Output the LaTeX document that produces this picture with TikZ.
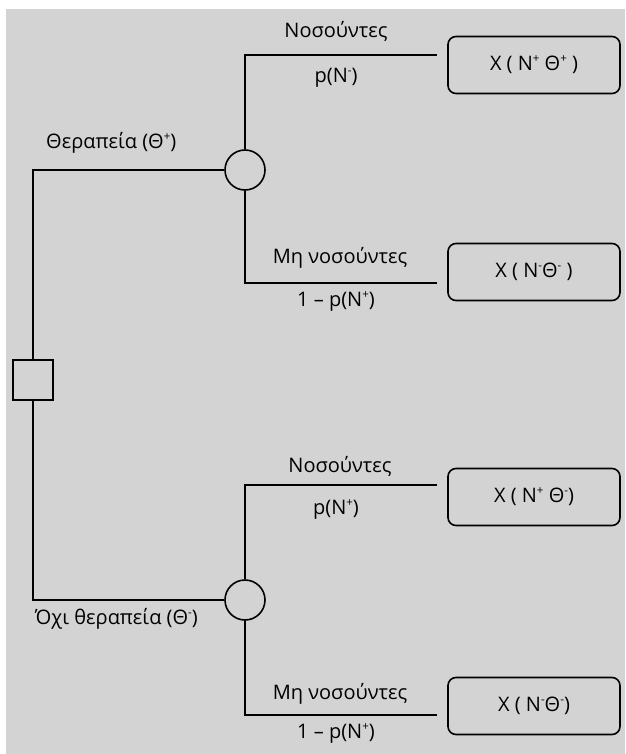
\documentclass[tikz,border=0pt]{standalone}
\usepackage{fontspec}
\setmainfont{Open Sans}
\definecolor{bg}{RGB}{211,211,211}
\newcommand{\sps}[1]{\raisebox{0.75ex}{\fontsize{11.5}{12}\selectfont #1}}
\begin{document}
\begin{tikzpicture}[x=1pt,y=-1pt,
  ln/.style={line width=1.6pt,black},
  lbl/.style={font=\fontsize{20}{22}\selectfont,inner sep=0pt},
  outcome/.style={draw,line width=1.6pt,rounded corners=8pt,minimum width=172pt,minimum height=57pt,font=\fontsize{20}{22}\selectfont,inner sep=0pt},
  chance/.style={draw,line width=1.6pt,circle,minimum size=40pt,inner sep=0pt},
  decision/.style={draw,line width=1.6pt,rectangle,minimum size=40pt,inner sep=0pt}]
\useasboundingbox (0,0) rectangle (625,754);
\fill[bg] (6,9) rectangle (625,754);
% nodes
\node[decision] (dec) at (33,380) {};
\node[chance] (c1) at (245,170) {};
\node[chance] (c2) at (245,600) {};
\node[outcome] (b1) at (534,65) {X ( N\sps{+} Θ\sps{+} )};
\node[outcome] (b2) at (534,272) {X ( N\sps{-}Θ\sps{-} )};
\node[outcome] (b3) at (534,497) {X ( N\sps{+} Θ\sps{-})};
\node[outcome] (b4) at (534,706) {X ( N\sps{-}Θ\sps{-})};
\coordinate (t1) at (245,55);
\coordinate (e1) at (437,55);
\coordinate (t2) at (245,283);
\coordinate (e2) at (437,283);
\coordinate (t3) at (245,485);
\coordinate (e3) at (437,485);
\coordinate (t4) at (245,715);
\coordinate (e4) at (437,715);
% connectors
\draw[ln] (dec.north) |- (c1.west);
\draw[ln] (dec.south) |- (c2.west);
\draw[ln] (c1.north) -- (t1) -- (e1);
\draw[ln] (c1.south) -- (t2) -- (e2);
\draw[ln] (c2.north) -- (t3) -- (e3);
\draw[ln] (c2.south) -- (t4) -- (e4);
% labels
\node[lbl] (l1) at (336,31) {Νοσούντες};
\node[lbl] (p1) at (336,78) {p(N\sps{-})};
\node[lbl,anchor=west] (th1) at (46,143) {Θεραπεία (Θ\sps{+})};
\node[lbl] (l2) at (340,258) {Μη νοσούντες};
\node[lbl] (p2) at (336,301) {1 – p(N\sps{+})};
\node[lbl] (l3) at (340,466) {Νοσούντες};
\node[lbl] (p3) at (336,509) {p(N\sps{+})};
\node[lbl,anchor=west] (th2) at (35,619) {Όχι θεραπεία (Θ\sps{-})};
\node[lbl] (l4) at (340,694) {Μη νοσούντες};
\node[lbl] (p4) at (336,733) {1 – p(N\sps{+})};
\end{tikzpicture}
\end{document}
